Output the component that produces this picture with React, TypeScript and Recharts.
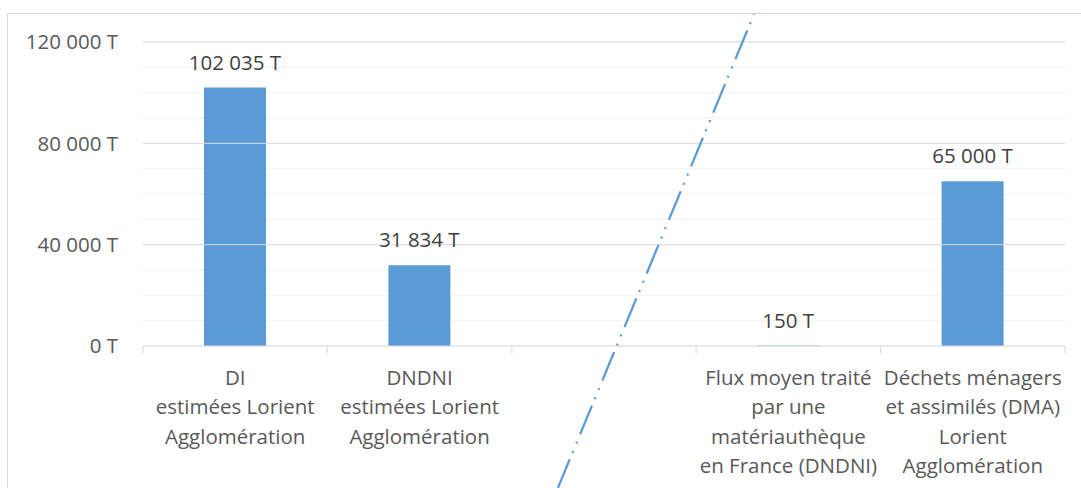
import { BarChart, Bar, XAxis, YAxis, CartesianGrid, LabelList, ReferenceLine } from 'recharts';

const categories = [
  'DI\nestimées Lorient\nAgglomération',
  'DNDNI\nestimées Lorient\nAgglomération',
  '',
  'Flux moyen traité\npar une\nmatériauthèque\nen France (DNDNI)',
  'Déchets ménagers\net assimilés (DMA)\nLorient\nAgglomération',
];
const tonnages = [102035, 31834, null, 150, 65000];
const yTicks = [0, 10000, 20000, 30000, 40000, 50000, 60000, 70000, 80000, 90000, 100000, 110000, 120000];
const majorTicks = [40000, 80000, 120000];

const data = categories.map((name, i) => ({ name, value: tonnages[i] }));

const BLUE = '#5B9BD5';
const GRID = '#d9d9d9';

const fmt = (v: number) => v.toString().replace(/\B(?=(\d{3})+(?!\d))/g, ' ') + ' T';

// trait de coupure en pointillés, exprimé sur l'axe d'index caché (0..4)
const separator = [
  { x: 1.8, y: -56000 },
  { x: 2.651, y: 131000 },
];

function CategoryTick(props: any) {
  const { x, y, payload, index, visibleTicksCount } = props;
  const half = payload.offset || 92.2;
  const lines = String(payload.value ?? '').split('\n');
  return (
    <g>
      <line x1={x - half} x2={x - half} y1={y} y2={y + 7} stroke={GRID} />
      {index === visibleTicksCount - 1 && (
        <line x1={x + half} x2={x + half} y1={y} y2={y + 7} stroke={GRID} />
      )}
      <text x={x} y={y} textAnchor="middle" fill="#595959" fontSize={20.5}>
        {lines.map((l, i) => (
          <tspan key={i} x={x} dy={i === 0 ? 39 : 29.3}>
            {l}
          </tspan>
        ))}
      </text>
    </g>
  );
}

function ValueLabel(props: any) {
  const { x, y, width, value } = props;
  if (value == null) return null;
  return (
    <text x={x + width / 2} y={y - 18} textAnchor="middle" fill="#404040" fontSize={20.5}>
      {fmt(Number(value))}
    </text>
  );
}

export default function App() {
  return (
    <div
      style={{
        position: 'relative',
        width: 1081,
        height: 488,
        overflow: 'hidden',
        fontFamily: "'Open Sans', sans-serif",
        background: '#fff',
      }}
    >
      <style>{'html,body{margin:0;overflow:hidden}'}</style>
      <div
        style={{
          position: 'absolute',
          left: 7,
          top: 13,
          width: 1200,
          height: 600,
          border: `1px solid ${GRID}`,
        }}
      />
      <div style={{ position: 'absolute', left: 8, top: 8 }}>
        <BarChart width={1073} height={480} data={data} margin={{ top: 34, right: 16, left: 0, bottom: 0 }}>
          <CartesianGrid vertical={false} stroke="#f2f2f2" />
          {majorTicks.map((t) => (
            <ReferenceLine key={t} y={t} stroke={GRID} />
          ))}
          <XAxis
            dataKey="name"
            interval={0}
            height={142}
            axisLine={{ stroke: GRID }}
            tickLine={false}
            tickSize={0}
            tickMargin={0}
            tick={<CategoryTick />}
          />
          <XAxis xAxisId="sep" type="number" domain={[0, 4]} hide />
          <YAxis
            width={135}
            domain={[0, 120000]}
            ticks={yTicks}
            interval={0}
            axisLine={false}
            tickLine={false}
            tickSize={0}
            tickMargin={25}
            tick={{ fill: '#595959', fontSize: 20.5 }}
            tickFormatter={(v: number) => (v % 40000 === 0 ? fmt(v) : '')}
          />
          <Bar dataKey="value" fill={BLUE} barSize={62} isAnimationActive={false}>
            <LabelList dataKey="value" content={<ValueLabel />} />
          </Bar>
          <ReferenceLine
            xAxisId="sep"
            segment={separator}
            ifOverflow="visible"
            stroke={BLUE}
            strokeWidth={2.25}
            strokeDasharray="31 7 2 8 2 8"
          />
        </BarChart>
      </div>
    </div>
  );
}
